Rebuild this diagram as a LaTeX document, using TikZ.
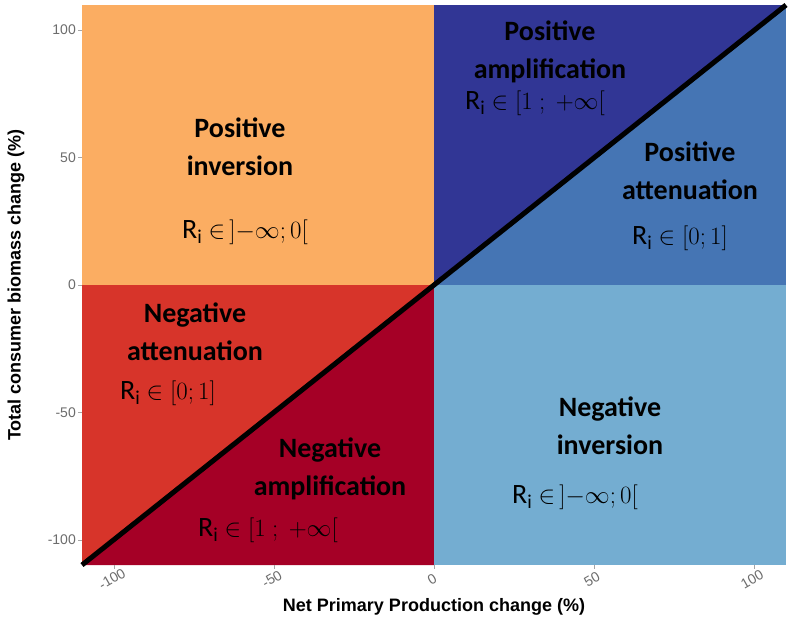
\documentclass[tikz,border=0pt]{standalone}
\usepackage{fontspec}
\setmainfont{Carlito}
\newfontfamily\arialfont{Liberation Sans}
\usetikzlibrary{positioning}
\definecolor{posinv}{HTML}{FBAD62}
\definecolor{negatt}{HTML}{D7342A}
\definecolor{negamp}{HTML}{A50026}
\definecolor{posamp}{HTML}{313695}
\definecolor{posatt}{HTML}{4575B4}
\definecolor{neginv}{HTML}{74ADD1}
\begin{document}
\begin{tikzpicture}[x=1pt, y=-1pt]
    \tikzset{
        lbl/.style      =   { align=center
                            , font=\fontsize{28}{38}\selectfont\bfseries
        }
        , ri/.style     =   { font=\fontsize{28}{32}\selectfont
        }
        , tick/.style   =   { font=\arialfont\fontsize{14}{16}\selectfont
                            , text=gray!85!black
                            , inner sep=0pt
        }
        , axis/.style   =   { font=\arialfont\fontsize{18}{20}\selectfont\bfseries
                            , inner sep=1pt
        }
    }
    \useasboundingbox (0,0) rectangle (792,624);
    % quadrants
    \fill[posinv] (82,5) rectangle (434,285);
    \fill[negatt] (82,285) rectangle (434,565);
    \fill[negamp] (82,565) -- (434,285) -- (434,565) -- cycle;
    \fill[posatt] (434,5) rectangle (786,285);
    \fill[posamp] (434,285) -- (786,5) -- (434,5) -- cycle;
    \fill[neginv] (434,285) rectangle (786,565);
    \coordinate (bl) at (82,565);
    \coordinate (tr) at (786,5);
    \draw[line width=5pt] (bl) -- (tr);
    % labels
    \node(pi)[lbl] at (240,147) {Positive\\inversion};
    \node(piR)[ri] at (245,232) {R$_{\mathrm{i}}$ $\in\,]{-\infty};0[$};
    \node(pa)[lbl] at (550,52) {Positive\\amplification};
    \node(paR)[ri] at (535,103) {R$_{\mathrm{i}}$ $\in [1\ ;\ +\infty[$};
    \node(pt)[lbl] at (690,171) {Positive\\attenuation};
    \node(ptR)[ri] at (680,238) {R$_{\mathrm{i}}$ $\in [0;1]$};
    \node(na)[lbl] at (195,332) {Negative\\attenuation};
    \node(naR)[ri] at (168,393) {R$_{\mathrm{i}}$ $\in [0;1]$};
    \node(nm)[lbl] at (330,469) {Negative\\amplification};
    \node(nmR)[ri] at (268,530) {R$_{\mathrm{i}}$ $\in [1\ ;\ +\infty[$};
    \node(ni)[lbl] at (610,426) {Negative\\inversion};
    \node(niR)[ri] at (575,497) {R$_{\mathrm{i}}$ $\in\,]{-\infty};0[$};
    % ticks
    \foreach \v/\t in {-100/-100,-50/-50,0/0,50/50,100/100} {
        \draw[gray!70] (434+3.2*\v,565) -- ++(0,4);
        \node[tick, rotate=30] at (434+3.2*\v-2,579) {\t};
        \draw[gray!70] (82,285-2.55*\v) -- ++(-4,0);
        \node[tick, anchor=east] at (76,285-2.55*\v) {\t};
    }
    \node(xl)[axis] at (434,607) {Net Primary Production change (\%)};
    \node(yl)[axis, rotate=90] at (16,285) {Total consumer biomass change (\%)};
\end{tikzpicture}
\end{document}
